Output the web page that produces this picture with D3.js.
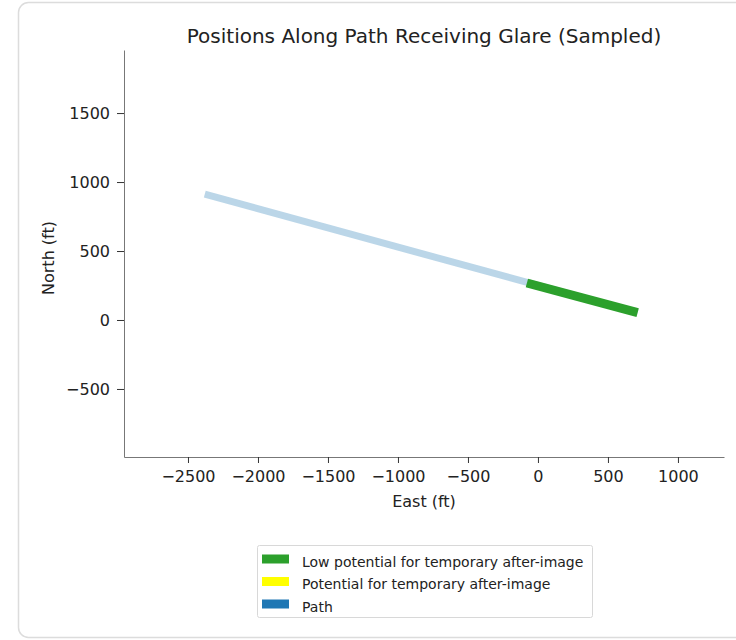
<!DOCTYPE html>
<html><head><meta charset="utf-8">
<script src="https://cdn.jsdelivr.net/npm/d3@7"></script>
<style>body{margin:0;background:#fff;font-family:"DejaVu Sans",sans-serif;}</style>
</head><body><svg id="c" width="736" height="640"></svg>
<script>
const title = "Positions Along Path Receiving Glare (Sampled)";
const xTicks = [-2500, -2000, -1500, -1000, -500, 0, 500, 1000];
const yTicks = [-500, 0, 500, 1000, 1500];
const xDomain = [-2957, 1329];
const yDomain = [-993, 1957];
// path (east, north) in ft
const pathEast = [-2380, 712];
const pathNorth = [912, 53];
// sampled positions with low potential for after-image
const lowEast = [-79, 712];
const lowNorth = [268, 53];
const legendLabels = ["Low potential for temporary after-image", "Potential for temporary after-image", "Path"];
const legendColors = ["#2ca02c", "#ffff00", "#1f77b4"];

const svg = d3.select("#c");
svg.append("rect").attr("x", 18.5).attr("y", 2.5).attr("width", 740).attr("height", 635)
  .attr("rx", 10).attr("fill", "#fff").attr("stroke", "#dcdcdc").attr("stroke-width", 1.5);

const L = 124, R = 724, T = 50, B = 457;
const x = d3.scaleLinear().domain(xDomain).range([L, R]);
const y = d3.scaleLinear().domain(yDomain).range([B, T]);

const fs = 16;
const xa = svg.append("g").attr("transform", `translate(0,${B})`)
  .call(d3.axisBottom(x).tickValues(xTicks).tickSize(6).tickPadding(8).tickFormat(d3.format("d")).tickSizeOuter(0));
const ya = svg.append("g").attr("transform", `translate(${L},0)`)
  .call(d3.axisLeft(y).tickValues(yTicks).tickSize(7).tickPadding(7).tickFormat(d3.format("d")).tickSizeOuter(0));
[xa, ya].forEach(a => {
  a.selectAll("text").attr("font-family", "DejaVu Sans").attr("font-size", fs).attr("fill", "#222");
  a.selectAll("line").attr("stroke", "#333");
  a.select(".domain").attr("stroke", "#777");
});
xa.selectAll("text").text(d => d < 0 ? "\u2212" + Math.abs(d) : d);
ya.selectAll("text").text(d => d < 0 ? "\u2212" + Math.abs(d) : d);

const line = d3.line().x(d => x(d[0])).y(d => y(d[1]));
svg.append("path").datum(pathEast.map((e, i) => [e, pathNorth[i]]))
  .attr("d", line).attr("stroke", legendColors[2]).attr("stroke-opacity", 0.3)
  .attr("stroke-width", 7).attr("fill", "none");
svg.append("path").datum(lowEast.map((e, i) => [e, lowNorth[i]]))
  .attr("d", line).attr("stroke", legendColors[0])
  .attr("stroke-width", 9).attr("fill", "none");

svg.append("text").attr("x", (L + R) / 2).attr("y", 43).attr("text-anchor", "middle")
  .attr("font-size", 20).attr("fill", "#222").text(title);
svg.append("text").attr("x", (L + R) / 2).attr("y", 507).attr("text-anchor", "middle")
  .attr("font-size", fs).attr("fill", "#222").text("East (ft)");
svg.append("text").attr("transform", `translate(54,258) rotate(-90)`).attr("text-anchor", "middle")
  .attr("font-size", fs).attr("fill", "#222").text("North (ft)");

const lg = svg.append("g");
lg.append("rect").attr("x", 257.5).attr("y", 545.5).attr("width", 335).attr("height", 72)
  .attr("rx", 2).attr("fill", "#fff").attr("stroke", "#d8d8d8");
legendLabels.forEach((t, i) => {
  const cy = 559 + i * 22.5;
  lg.append("rect").attr("x", 262).attr("y", cy - 4.5).attr("width", 27).attr("height", 9).attr("fill", legendColors[i]);
  lg.append("text").attr("x", 302).attr("y", cy + 7.5).attr("font-size", 14).attr("fill", "#222").text(t);
});
</script></body></html>
